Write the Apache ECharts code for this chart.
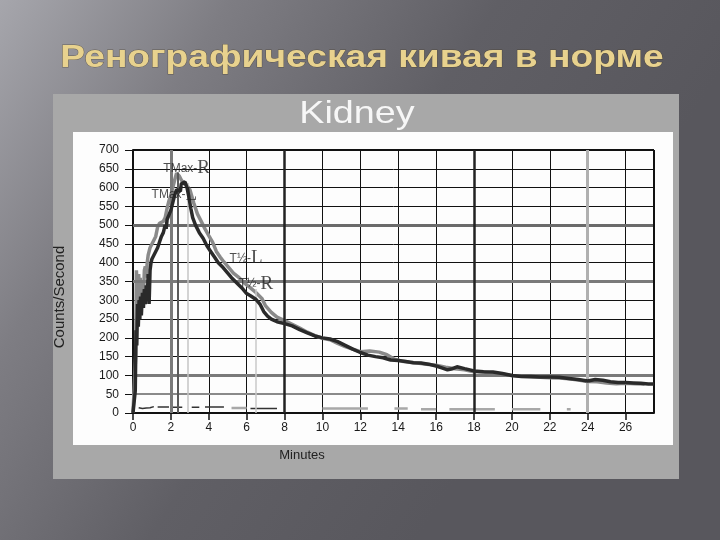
<!DOCTYPE html>
<html>
<head>
<meta charset="utf-8">
<script src="https://cdn.jsdelivr.net/npm/echarts@6/dist/echarts.min.js"></script>
<style>
html,body{margin:0;padding:0;width:720px;height:540px;overflow:hidden;}
#main{width:720px;height:540px;}
</style>
</head>
<body>
<div id="main"></div>
<script>
// ---- Data ----
const minutesL = [0,0.08,0.12,0.16,0.2,0.24,0.28,0.32,0.36,0.4,0.44,0.5,0.55,0.6,0.65,0.7,0.75,0.8,0.85,0.9,0.95,1.0,1.1,1.2,1.3,1.4,1.5,1.6,1.7,1.75,1.8,1.9,2.0,2.1,2.2,2.3,2.4,2.5,2.55,2.65,2.75,2.85,2.95,3.05,3.15,3.3,3.5,3.7,3.9,4.1,4.3,4.5,4.7,5.0,5.2,5.4,5.6,5.8,6.0,6.2,6.5,6.7,6.9,7.1,7.3,7.6,8.0,8.4,8.8,9.2,9.6,10.0,10.4,10.8,11.2,11.6,12.0,12.4,12.8,13.2,13.6,14.0,14.4,14.8,15.2,15.6,16.0,16.3,16.6,16.8,17.1,17.5,18.0,18.5,19.0,19.5,20.0,20.5,21.0,21.5,22.0,22.5,23.0,23.5,24.0,24.4,24.8,25.2,25.6,26.0,26.4,26.8,27.2,27.5];
const countsL  = [0,0,60,220,180,290,230,300,250,310,260,320,280,330,290,340,300,370,290,380,400,410,420,430,440,455,470,480,500,490,515,520,540,560,580,595,600,590,610,612,615,600,575,545,520,500,480,465,445,430,415,400,390,372,360,350,340,330,318,312,302,290,270,258,250,243,238,232,222,213,205,200,197,190,180,170,161,154,150,147,141,140,137,134,133,130,125,120,115,117,123,118,112,110,109,105,100,97,97,96,96,95,92,89,85,89,87,83,81,81,80,79,77,77];

const minutesR = [0,0.1,0.14,0.18,0.22,0.26,0.3,0.34,0.38,0.42,0.46,0.5,0.55,0.6,0.65,0.7,0.75,0.8,0.9,1.0,1.1,1.2,1.3,1.4,1.5,1.6,1.7,1.8,1.9,2.0,2.1,2.2,2.3,2.35,2.45,2.55,2.7,2.85,3.0,3.2,3.4,3.6,3.8,4.0,4.2,4.4,4.6,4.8,5.0,5.3,5.6,5.9,6.2,6.5,6.8,7.0,7.3,7.6,8.0,8.4,8.8,9.2,9.6,10.0,10.4,10.8,11.2,11.6,12.0,12.5,13.0,13.4,13.8,14.2,14.6,15.0,15.5,16.0,16.5,17.0,17.5,18.0,18.5,19.0,19.5,20.0,20.5,21.0,21.5,22.0,22.5,23.0,23.5,24.0,24.5,25.0,25.5,26.0,26.5,27.0];
const countsR  = [0,0,150,380,330,300,370,310,360,300,340,350,310,380,390,360,400,420,440,450,460,470,495,505,510,510,520,545,565,580,600,620,638,642,630,620,610,605,595,560,530,510,490,472,455,430,415,402,390,372,360,345,333,320,305,285,268,255,246,236,226,215,206,199,195,185,177,170,163,165,162,155,143,138,135,133,130,127,122,118,115,110,109,106,103,100,98,96,95,94,93,91,88,84,83,80,78,79,78,77];

// background (near-zero) traces, null = gap
const minutesBgL = [0.3,0.4,0.5,0.6,0.7,0.8,0.9,1.0,1.1,null,1.3,1.9,null,2.1,2.6,null,3.1,3.5,null,3.8,4.8,null,6.2,7.6];
const countsBgL  = [14,18,12,17,13,16,14,15,17,null,16,16,null,15,15,null,15,15,null,16,16,null,12,12];
const minutesBgR = [5.2,6.0,null,10.0,12.4,null,13.8,14.5,null,15.2,16.0,null,16.7,19.1,null,20.0,21.5,null,22.9,23.1];
const countsBgR  = [13,13,null,12,12,null,12,12,null,10,10,null,10,10,null,10,10,null,10,10];

// axes
const xTicks = [0,2,4,6,8,10,12,14,16,18,20,22,24,26];
const xMax = 27.5;
const yMax = 700;
const yStep = 50;

// marker annotations
const annText = [['TMax-','R'],['TMax-','L'],['T½-','L'],['T½-','R']];
const annMin  = [1.6, 0.98, 5.1, 5.6];
const annCnt  = [651, 581, 412, 343];
const markerMin = [2.35, 2.88, 6.5];
const markerTop = [640, 612, 330];

// ---- Chart ----
const pairs = (xs, ys) => xs.map((t, i) => (t === null || ys[i] === null) ? ['-', '-'] : [t, ys[i]]);

const chart = echarts.init(document.getElementById('main'), null, {renderer: 'canvas'});

const solid = (color, width) => ({color: color, width: width, type: 'solid'});
const thickH = [
  {yAxis: 50,  lineStyle: solid('#8a8a8a', 2)},
  {yAxis: 100, lineStyle: solid('#7a7a7a', 3)},
  {yAxis: 350, lineStyle: solid('#7a7a7a', 3)},
  {yAxis: 500, lineStyle: solid('#6a6a6a', 3)},
  {yAxis: 700, lineStyle: solid('#111', 2)},
  {xAxis: 2,  lineStyle: solid('#7a7a7a', 3)},
  {xAxis: 8,  lineStyle: solid('#222', 2.5)},
  {xAxis: 18, lineStyle: solid('#222', 2.5)},
  {xAxis: 24, lineStyle: solid('#b0b0b0', 3)},
  {xAxis: xMax, lineStyle: solid('#111', 2)}
];
const markerLines = [
  [{coord: [markerMin[0], 0], lineStyle: solid('#5a5a5a', 2)}, {coord: [markerMin[0], markerTop[0]]}],
  [{coord: [markerMin[1], 0], lineStyle: solid('#c4c4c4', 1.5)}, {coord: [markerMin[1], markerTop[1]]}],
  [{coord: [markerMin[2], 0], lineStyle: solid('#c8c8c8', 1.5)}, {coord: [markerMin[2], markerTop[2]]}]
];

const option = {
  animation: false,
  backgroundColor: {
    type: 'linear', x: 0, y: 0, x2: 0.75, y2: 0.65,
    colorStops: [
      {offset: 0, color: '#a6a6ac'},
      {offset: 0.3, color: '#7e7d83'},
      {offset: 0.65, color: '#605f65'},
      {offset: 1, color: '#58575d'}
    ]
  },
  graphic: [
    {type: 'rect', z: -2, shape: {x: 53, y: 94, width: 626, height: 385}, style: {fill: '#a8a8a8'}},
    {type: 'rect', z: -1, shape: {x: 73, y: 132, width: 600, height: 313}, style: {fill: '#fdfdfd'}},
    {type: 'text', z: 10, x: 362, y: 58, scaleX: 1.2,
      style: {text: 'Ренографическая кивая в норме', fill: '#e8d28e', fontSize: 31, fontWeight: 'bold',
        fontFamily: '"Liberation Sans", Arial, sans-serif', align: 'center', verticalAlign: 'middle',
        stroke: 'rgba(70,60,40,0.6)', lineWidth: 0.8,
        shadowColor: 'rgba(20,20,20,0.75)', shadowBlur: 2, shadowOffsetX: 1, shadowOffsetY: 2}},
    {type: 'text', z: 10, x: 357, y: 114, scaleX: 1.18,
      style: {text: 'Kidney', fill: '#f7f7f7', fontSize: 32,
        fontFamily: '"Liberation Sans", Arial, sans-serif', align: 'center', verticalAlign: 'middle'}},
    {type: 'text', z: 10, x: 302, y: 455,
      style: {text: 'Minutes', fill: '#222', fontSize: 13,
        fontFamily: '"Liberation Sans", Arial, sans-serif', align: 'center', verticalAlign: 'middle'}},
    {type: 'text', z: 10, x: 60, y: 297, rotation: Math.PI / 2,
      style: {text: 'Counts/Second', fill: '#222', fontSize: 15,
        fontFamily: '"Liberation Sans", Arial, sans-serif', align: 'center', verticalAlign: 'middle'}}
  ],
  grid: {left: 133, right: 66, top: 150, bottom: 127, containLabel: false},
  xAxis: {
    type: 'value', min: 0, max: xMax, interval: 2,
    axisLine: {show: true, lineStyle: {color: '#111', width: 2}},
    axisTick: {show: true, length: 7, lineStyle: {color: '#111', width: 1.5}},
    axisLabel: {show: true, margin: 9, fontSize: 12, color: '#1a1a1a', fontFamily: '"Liberation Sans", Arial, sans-serif',
      showMaxLabel: false,
      formatter: v => xTicks.indexOf(v) >= 0 ? String(v) : ''},
    splitLine: {show: true, lineStyle: {color: '#111', width: 1}}
  },
  yAxis: {
    type: 'value', min: 0, max: yMax, interval: yStep,
    axisLine: {show: true, lineStyle: {color: '#111', width: 2}},
    axisTick: {show: true, length: 8, lineStyle: {color: '#111', width: 1}},
    axisLabel: {show: true, margin: 14, fontSize: 12, color: '#1a1a1a', fontFamily: '"Liberation Sans", Arial, sans-serif'},
    splitLine: {show: true, lineStyle: {color: '#111', width: 1}}
  },
  series: [
    {
      name: 'grid-accents', type: 'line', data: [], silent: true,
      markLine: {silent: true, symbol: ['none', 'none'], label: {show: false}, data: thickH.concat(markerLines)}
    },
    {
      name: 'bgL', type: 'line', data: pairs(minutesBgL, countsBgL), showSymbol: false, connectNulls: false,
      lineStyle: {color: '#333', width: 1.5}, z: 3
    },
    {
      name: 'bgR', type: 'line', data: pairs(minutesBgR, countsBgR), showSymbol: false, connectNulls: false,
      lineStyle: {color: '#a8a8a8', width: 2.5}, z: 3
    },
    {
      name: 'R', type: 'line', data: pairs(minutesR, countsR), showSymbol: false,
      lineStyle: {color: '#8a8a8a', width: 3.5}, z: 4
    },
    {
      name: 'L', type: 'line', data: pairs(minutesL, countsL), showSymbol: false,
      lineStyle: {color: '#2a2a2a', width: 3.5}, z: 5
    },
    {
      name: 'annotations', type: 'scatter', symbolSize: 0, z: 8, silent: true,
      data: annText.map((t, i) => ({value: [annMin[i], annCnt[i]]})),
      label: {
        show: true, position: 'right', distance: 0,
        formatter: p => '{a|' + annText[p.dataIndex][0] + '}{b|' + annText[p.dataIndex][1] + '}',
        rich: {
          a: {fontFamily: '"Liberation Sans", Arial, sans-serif', fontSize: 12, color: '#222'},
          b: {fontFamily: '"Liberation Serif", "Times New Roman", serif', fontSize: 19, color: '#222'}
        }
      }
    }
  ]
};
chart.setOption(option);
</script>
</body>
</html>
